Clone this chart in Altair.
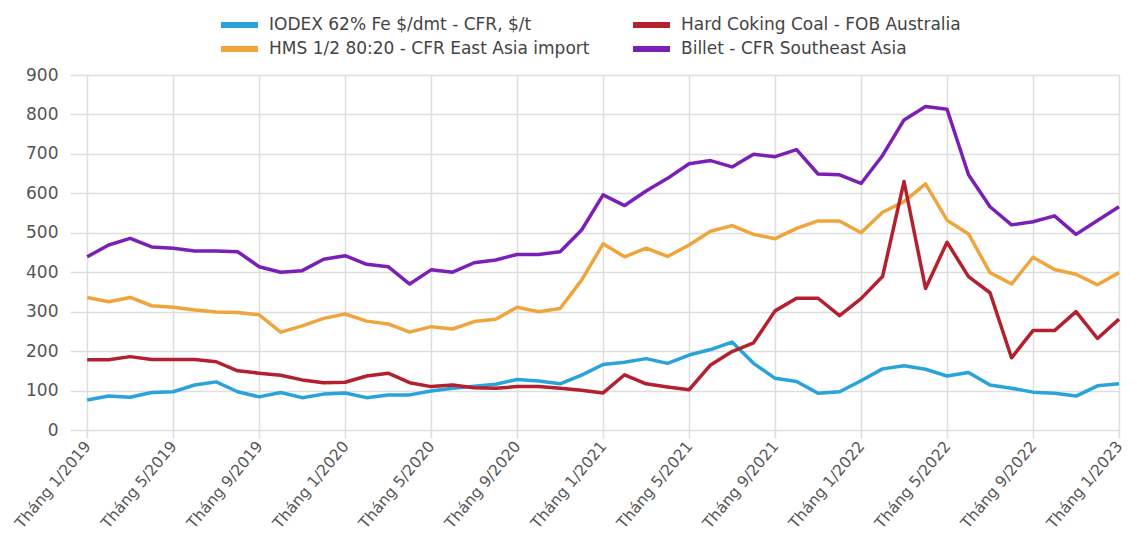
import json
import altair as alt
import pandas as pd

# ---- data (monthly, Jan 2019 .. Jan 2023) ----
months = [f"{m}/{y}" for y in range(2019, 2023) for m in range(1, 13)] + ["1/2023"]

iodex = [76, 86, 83, 95, 97, 114, 122, 97, 84, 95, 82, 91,
         94, 82, 89, 89, 99, 106, 111, 116, 128, 124, 117, 139,
         166, 172, 181, 169, 190, 204, 223, 169, 131, 123, 93, 97,
         125, 155, 163, 154, 137, 146, 114, 106, 96, 93, 86, 112,
         117]
hcc = [178, 178, 186, 179, 179, 179, 173, 150, 144, 139, 127, 120,
       121, 137, 144, 120, 110, 114, 107, 106, 110, 110, 106, 101,
       94, 140, 117, 109, 102, 165, 199, 221, 302, 334, 334, 290,
       333, 389, 630, 359, 476, 389, 348, 183, 252, 252, 300, 232,
       281]
hms = [336, 325, 336, 315, 311, 304, 299, 298, 292, 248, 264, 283,
       294, 276, 269, 248, 262, 256, 275, 281, 311, 300, 308, 380,
       472, 439, 461, 440, 469, 504, 518, 496, 485, 511, 530, 530,
       500, 552, 579, 624, 532, 497, 399, 370, 438, 407, 395, 368,
       399]
billet = [439, 469, 486, 464, 461, 454, 454, 452, 414, 400, 404, 433,
          442, 420, 414, 370, 406, 400, 424, 431, 445, 445, 452, 507,
          596, 569, 606, 638, 675, 683, 667, 699, 693, 711, 649, 647,
          625, 696, 786, 820, 813, 647, 566, 520, 528, 543, 496, 531,
          566]

# legend is filled column by column: col 1 = IODEX, HMS ; col 2 = HCC, Billet
series_names = [
    "IODEX 62% Fe $/dmt - CFR, $/t",
    "HMS 1/2 80:20 - CFR East Asia import",
    "Hard Coking Coal - FOB Australia",
    "Billet - CFR Southeast Asia",
]
series_colors = ["#2AA2DA", "#EFA53C", "#B3202E", "#7B20B6"]
series_values = [iodex, hms, hcc, billet]

tick_idx = list(range(0, 49, 4))
tick_labels = ["Tháng " + months[i] for i in tick_idx]
y_ticks = list(range(0, 901, 100))

rows = []
for name, vals in zip(series_names, series_values):
    for i, v in enumerate(vals):
        rows.append({"idx": i, "month": months[i], "series": name, "value": v})
df = pd.DataFrame(rows)

label_expr = json.dumps(tick_labels, ensure_ascii=False) + "[round(datum.value / 4)]"

FONT = "DejaVu Sans"
GRID = "#dedede"

chart = alt.Chart(df).mark_line(strokeWidth=3.5, strokeJoin="round").encode(
    x=alt.X("idx:Q",
            scale=alt.Scale(domain=[-0.8, 48], nice=False, zero=False),
            axis=alt.Axis(values=tick_idx, labelExpr=label_expr, title=None,
                          grid=True, gridColor=GRID, gridWidth=1.5,
                          ticks=True, tickColor=GRID, tickWidth=1.5, tickSize=8,
                          domain=False, labelAngle=-50, labelAlign="right",
                          labelBaseline="middle", labelPadding=5,
                          labelFont=FONT, labelFontSize=15.5, labelColor="#555555")),
    y=alt.Y("value:Q",
            scale=alt.Scale(domain=[0, 900], nice=False),
            axis=alt.Axis(values=y_ticks, title=None, grid=True, gridColor=GRID,
                          gridWidth=1.5, ticks=False, domain=False, labelPadding=12,
                          labelFont=FONT, labelFontSize=17, labelColor="#555555")),
    color=alt.Color("series:N",
                    scale=alt.Scale(domain=series_names, range=series_colors),
                    legend=alt.Legend(title=None, orient="none", legendX=148, legendY=-60,
                                      columns=2, columnPadding=40, rowPadding=4,
                                      clipHeight=20,
                                      symbolType="stroke", symbolSize=1369,
                                      symbolStrokeWidth=6, labelOffset=8,
                                      labelFont=FONT, labelFontSize=17,
                                      labelColor="#444444", labelLimit=500,
                                      padding=0)),
    detail="series:N",
).properties(
    width=1049,
    height=355,
    autosize=alt.AutoSizeParams(type="none"),
    padding={"left": 62, "top": 67, "right": 10, "bottom": 110},
).configure_view(strokeWidth=0)

chart.save("out.html", embed_options={"renderer": "svg", "actions": False})
